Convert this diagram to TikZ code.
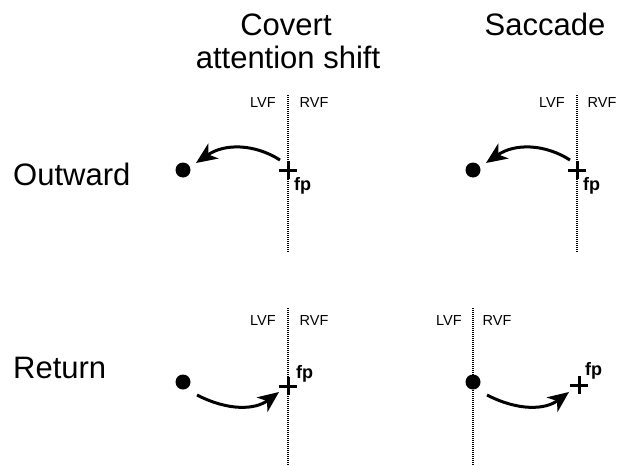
\documentclass[tikz,border=0pt]{standalone}
\usepackage{fontspec}
\setmainfont{Liberation Sans}
\usetikzlibrary{arrows.meta}
\begin{document}
\begin{tikzpicture}[x=1pt,y=-1pt,
  title/.style={font=\fontsize{31}{37}\selectfont, anchor=base, inner sep=0pt},
  rowlab/.style={font=\fontsize{31}{37}\selectfont, anchor=base west, inner sep=0pt},
  vf/.style={font=\fontsize{14.5}{16}\selectfont, anchor=base, inner sep=0pt},
  fplab/.style={font=\bfseries\fontsize{18}{20}\selectfont, anchor=base west, inner sep=0pt},
  meridian/.style={line width=1.8pt, dash pattern=on 1pt off 1pt},
  target/.style={circle, fill=black, inner sep=0pt, minimum size=15pt},
  shiftarrow/.style={line width=3pt, -{Stealth[length=21pt,width=18pt,inset=6pt]}},
  cross/.style={line width=3pt}]
\useasboundingbox (0,0) rectangle (619,466);

% titles
\node[title] (t1) at (286,35) {Covert};
\node[title] (t2) at (288,68) {attention shift};
\node[title] (t3) at (545,35) {Saccade};
\node[rowlab] (r1) at (13,185) {Outward};
\node[rowlab] (r2) at (13,378) {Return};

% vertical meridians
\coordinate (m1a) at (288,95);  \coordinate (m1b) at (288,253);
\coordinate (m2a) at (577,95);  \coordinate (m2b) at (577,253);
\coordinate (m3a) at (288,308); \coordinate (m3b) at (288,466);
\coordinate (m4a) at (473,308); \coordinate (m4b) at (473,466);
\foreach \m in {1,2,3,4} \draw[meridian] (m\m a) -- (m\m b);

% field labels
\node[vf] (l1) at (263,107) {LVF}; \node[vf] (rv1) at (314,107) {RVF};
\node[vf] (l2) at (552,107) {LVF}; \node[vf] (rv2) at (602,107) {RVF};
\node[vf] (l3) at (263,325) {LVF}; \node[vf] (rv3) at (314,325) {RVF};
\node[vf] (l4) at (449,325) {LVF}; \node[vf] (rv4) at (497,325) {RVF};

% fixation points
\coordinate (fp1) at (288,170);
\coordinate (fp2) at (577,170);
\coordinate (fp3) at (288,386);
\coordinate (fp4) at (579,385);
\foreach \f in {1,2,3,4}
  \draw[cross] ([xshift=-9pt]fp\f) -- ([xshift=9pt]fp\f)
               ([yshift=-9pt]fp\f) -- ([yshift=9pt]fp\f);
\node[fplab] (fl1) at (294,190) {fp};
\node[fplab] (fl2) at (583,190) {fp};
\node[fplab] (fl3) at (296,378) {fp};
\node[fplab] (fl4) at (585,375) {fp};

% targets
\node[target] (d1) at (183,170) {};
\node[target] (d2) at (473,170) {};
\node[target] (d3) at (183,382) {};
\node[target] (d4) at (473,382) {};

% arrows
\coordinate (a1s) at (280,160); \coordinate (a1e) at (196,163);
\coordinate (a2s) at (570,160); \coordinate (a2e) at (486,163);
\coordinate (a3s) at (197,395); \coordinate (a3e) at (279,392);
\coordinate (a4s) at (487,395); \coordinate (a4e) at (569,392);
\draw[shiftarrow] (a1s) .. controls (255,144) and (225,143) .. (a1e);
\draw[shiftarrow] (a2s) .. controls (545,144) and (515,143) .. (a2e);
\draw[shiftarrow] (a3s) .. controls (228,411) and (255,410) .. (a3e);
\draw[shiftarrow] (a4s) .. controls (518,411) and (545,410) .. (a4e);
\end{tikzpicture}
\end{document}
